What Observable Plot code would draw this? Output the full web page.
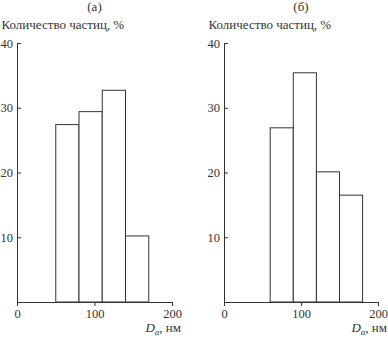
<!DOCTYPE html>
<html><head><meta charset="utf-8">
<script src="https://cdn.jsdelivr.net/npm/d3@7"></script>
<script src="https://cdn.jsdelivr.net/npm/@observablehq/plot@0.6"></script>
<style>
body{margin:0;background:#fff;}
#wrap{display:flex;width:388px;height:345px;}
svg text{font-family:"Liberation Serif","Times New Roman",serif;}
</style></head><body><div id="wrap"></div>
<script>
const panelTitles = ["(а)", "(б)"];
const yLabel = "Количество частиц, %";
const binEdgesA = [50, 80, 110, 140, 170];
const valuesA = [27.4, 29.4, 32.7, 10.2];
const binEdgesB = [60, 90, 120, 150, 180];
const valuesB = [26.9, 35.4, 20.1, 16.5];
const xTicks = [0, 100, 200];
const yTicks = [10, 20, 30, 40];
const xLabelMain = "D", xLabelSub = "a", xLabelUnit = ", нм";

const ink = "#333";
const font = `"Liberation Serif", "Times New Roman", serif`;

function panel(title, edges, values, ml, mr) {
  const bins = values.map((v, i) => ({x1: edges[i], x2: edges[i + 1], y: v}));
  const plot = Plot.plot({
    width: 194, height: 345,
    marginLeft: ml, marginRight: mr, marginTop: 43, marginBottom: 43,
    x: {domain: [0, 200]},
    y: {domain: [0, 40]},
    style: {fontFamily: font, fontSize: "12.5px", color: ink, background: "white", overflow: "visible"},
    marks: [
      Plot.rectY(bins, {x1: "x1", x2: "x2", y: "y", fill: "white", stroke: ink, strokeWidth: 1}),
      Plot.ruleX([0], {stroke: ink}),
      Plot.ruleY([0], {stroke: ink}),
      Plot.axisX({ticks: xTicks, tickSize: 4, tickPadding: 3, label: null}),
      Plot.axisY({ticks: yTicks, tickSize: 4, tickPadding: 4.5, dx: 4, label: null})
    ]
  });
  const xr = plot.scale("x").range;
  const svg = d3.select(plot);
  svg.append("text")
    .attr("x", (xr[0] + xr[1]) / 2).attr("y", 11)
    .attr("text-anchor", "middle").attr("fill", ink)
    .style("font-size", "13px").text(title);
  svg.append("text")
    .attr("x", xr[0] - 15.5).attr("y", 29)
    .attr("text-anchor", "start").attr("fill", ink)
    .style("font-size", "13px").text(yLabel);
  const t = svg.append("text")
    .attr("x", xr[1] + 9).attr("y", 332)
    .attr("text-anchor", "end").attr("fill", ink)
    .style("font-size", "13px");
  t.append("tspan").style("font-style", "italic").text(xLabelMain);
  t.append("tspan").style("font-style", "italic").style("font-size", "9px").attr("dy", 3).text(xLabelSub);
  t.append("tspan").attr("dy", -3).text(xLabelUnit);
  return plot;
}

const wrap = document.getElementById("wrap");
wrap.appendChild(panel(panelTitles[0], binEdgesA, valuesA, 17, 22));
wrap.appendChild(panel(panelTitles[1], binEdgesB, valuesB, 30, 10));
</script></body></html>
